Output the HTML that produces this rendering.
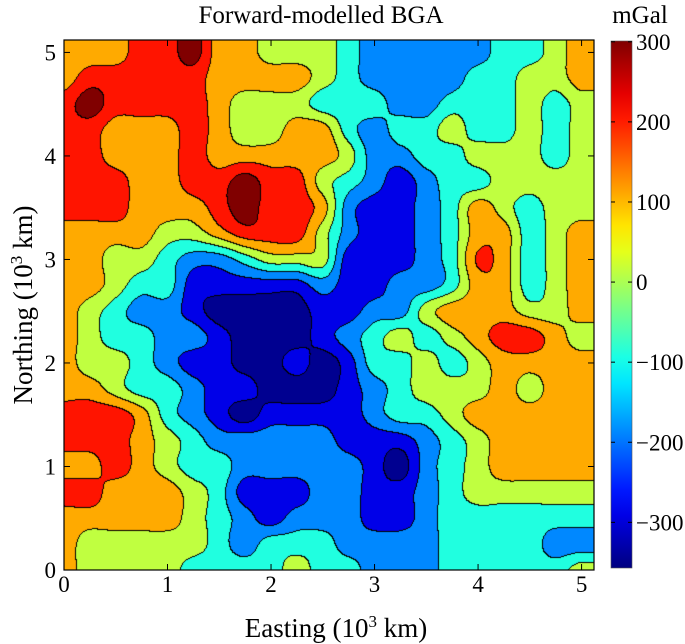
<!DOCTYPE html>
<html><head><meta charset="utf-8"><style>
body{margin:0;background:#fff;width:685px;height:644px;overflow:hidden;position:relative;font-family:"Liberation Serif",serif}
canvas{position:absolute;left:64px;top:40px}
svg{position:absolute;left:0;top:0}
</style></head><body>
<canvas id="map" width="530" height="530"></canvas>
<svg id="ax" width="685" height="644"></svg>
<script>
// grid values (mGal), rows from northing 5.0 down to 0.0 in 0.25 km steps; columns easting 0..5 step 0.25
const K=-300,B=-220,L=-140,C=-60,G=20,O=100,R=180,D=260;
const gridNorthing=[5,4.75,4.5,4.25,4,3.75,3.5,3.25,3,2.75,2.5,2.25,2,1.75,1.5,1.25,1,0.75,0.5,0.25,0];
const gridEasting=[0,0.25,0.5,0.75,1,1.25,1.5,1.75,2,2.25,2.5,2.75,3,3.25,3.5,3.75,4,4.25,4.5,4.75,5];
const bga=[
[O,O,O,R,R,D,O,O,G,G,G, C,L,L,L,L,L,C,C,G,O],
[O,R,R,R,R,R,O,O,O,O,G, C,L,L,L,L,C,C,G,G,O],
[R,D,R,R,R,R,O,G,G,G,C, C,C,L,L,C,C,C,G,C,G],
[R,R,O,O,O,R,O,G,G,O,O, C,L,C,C,G,C,C,G,C,G],
[R,R,O,O,O,R,O,O,O,O,O, G,L,L,C,C,G,G,G,C,G],
[R,R,R,O,O,R,R,D,R,R,G, C,L,B,L,C,C,G,G,G,G],
[R,R,R,O,O,O,R,D,R,R,O, L,B,B,L,C,O,G,C,G,G],
[O,O,O,O,G,G,O,R,R,R,G, L,B,B,L,C,O,O,C,G,O],
[O,O,G,G,C,L,L,C,G,G,G, B,B,B,L,C,150,O,C,G,O],
[O,O,G,C,C,B,B,B,B,B,L, B,B,L,L,C,O,O,C,G,O],
[O,G,C,L,L,B,K,K,K,K,B, B,L,L,G,O,O,O,G,G,O],
[O,G,C,C,L,L,B,K,K,K,B, L,C,G,C,G,O,R,R,O,G],
[O,G,G,C,L,B,B,K,K,B,K, B,C,C,G,C,G,O,O,O,O],
[O,O,G,C,C,L,B,B,K,K,K, B,L,C,G,G,G,O,G,O,O],
[R,R,R,O,C,L,B,K,B,B,B, B,L,C,C,G,O,O,O,O,O],
[R,R,R,O,G,C,L,L,L,L,L, B,B,B,L,C,G,O,O,O,O],
[O,O,R,O,G,C,C,L,L,L,L, L,B,K,L,C,G,O,O,O,O],
[R,R,O,O,O,G,C,B,B,B,L, L,B,B,L,C,G,G,G,G,G],
[O,O,O,O,O,G,C,L,B,L,L, L,B,B,L,C,C,C,C,C,C],
[O,G,G,G,G,G,C,L,C,C,C, L,L,L,L,C,C,C,C,L,L],
[O,G,G,G,G,C,C,C,C,G,C, C,L,L,L,C,C,C,C,C,G]
];
const levels=[-260,-180,-100,-20,60,140,220];
const bandColors=[[0,0,144],[0,0,232],[0,136,255],[32,255,224],[192,255,64],[255,170,0],[255,20,0],[128,0,0]];
const xTicks=[0,1,2,3,4,5];
const yTicks=[0,1,2,3,4,5];
const cbTicks=[300,200,100,0,-100,-200,-300];

const X0=64,X1=594,Y0=570,Y1=40,KMAX=5.12;
const sx=v=>X0+v*(X1-X0)/KMAX, sy=v=>Y0-v*(Y0-Y1)/KMAX;
const CB_TOP=41,CB_BOT=568,CMAX=301,CMIN=-357;
const cy=v=>CB_TOP+(CMAX-v)*(CB_BOT-CB_TOP)/(CMAX-CMIN);

function gv(r,c){const nr=bga.length,nc=bga[0].length;r=Math.max(0,Math.min(nr-1,r));c=Math.max(0,Math.min(nc-1,c));return bga[r][c];}
function cr(p0,p1,p2,p3,t){return 0.5*((2*p1)+(-p0+p2)*t+(2*p0-5*p1+4*p2-p3)*t*t+(-p0+3*p1-3*p2+p3)*t*t*t);}
function sample(e,n){
  const nr=gridNorthing.length,nc=gridEasting.length;
  let fc=Math.min(Math.max(e/0.25,0),nc-1), fr=Math.min(Math.max((5-n)/0.25,0),nr-1);
  let c0=Math.min(Math.floor(fc),nc-2), r0=Math.min(Math.floor(fr),nr-2);
  const tx=fc-c0, ty=fr-r0;
  const rows=[];
  for(let k=-1;k<=2;k++){rows.push(cr(gv(r0+k,c0-1),gv(r0+k,c0),gv(r0+k,c0+1),gv(r0+k,c0+2),tx));}
  return cr(rows[0],rows[1],rows[2],rows[3],ty);
}
function band(v){let k=0;while(k<levels.length&&v>=levels[k])k++;return k;}
(function(){
  const cv=document.getElementById('map'),ctx=cv.getContext('2d');
  const W=cv.width,H=cv.height,img=ctx.createImageData(W,H);
  const bands=new Int8Array(W*H);
  for(let j=0;j<H;j++)for(let i=0;i<W;i++){
    const e=(i+0.5)/W*KMAX, n=KMAX-(j+0.5)/H*KMAX;
    bands[j*W+i]=band(sample(e,n));
  }
  for(let j=0;j<H;j++)for(let i=0;i<W;i++){
    const b=bands[j*W+i];let col=bandColors[b];
    if((i<W-1&&bands[j*W+i+1]!==b)||(j<H-1&&bands[(j+1)*W+i]!==b))col=[0,0,0];
    const p=(j*W+i)*4;img.data[p]=col[0];img.data[p+1]=col[1];img.data[p+2]=col[2];img.data[p+3]=255;
  }
  ctx.putImageData(img,0,0);
})();
function jet(t){const cl=v=>Math.max(0,Math.min(1,v));
  return `rgb(${Math.round(255*cl(1.5-Math.abs(4*t-3)))},${Math.round(255*cl(1.5-Math.abs(4*t-2)))},${Math.round(255*cl(1.5-Math.abs(4*t-1)))})`;}
const NS='http://www.w3.org/2000/svg',svg=document.getElementById('ax');
function el(tag,attrs,parent){const e=document.createElementNS(NS,tag);for(const k in attrs)e.setAttribute(k,attrs[k]);(parent||svg).appendChild(e);return e;}
const defs=el('defs',{});const lg=el('linearGradient',{id:'jet',x1:0,y1:1,x2:0,y2:0},defs);
for(let s=0;s<=20;s++){el('stop',{offset:s/20,'stop-color':jet(s/20)},lg);}
const cbar=el('rect',{x:611,y:CB_TOP,width:21,height:CB_BOT-CB_TOP,fill:'url(#jet)',stroke:'#555','stroke-width':0.6});


cbTicks.forEach(v=>{
  const y=cy(v);
  el('line',{x1:611,x2:615,y1:y,y2:y,stroke:'#000','stroke-width':1});
  el('line',{x1:628,x2:632,y1:y,y2:y,stroke:'#000','stroke-width':1});
  const t=el('text',{x:636,y:y+8,'font-size':23,'font-family':'Liberation Serif, serif'});
  t.textContent=v<0?'\u2212'+(-v):String(v);
  
  
});
const fr=el('rect',{x:X0,y:Y1,width:X1-X0,height:Y0-Y1,fill:'none',stroke:'#000','stroke-width':1.2});


xTicks.forEach(v=>{
  const x=sx(v);
  el('line',{x1:x,x2:x,y1:Y0,y2:Y0-6,stroke:'#000'});
  el('line',{x1:x,x2:x,y1:Y1,y2:Y1+6,stroke:'#000'});
  const t=el('text',{x:x,y:Y0+22,'text-anchor':'middle','font-size':23,'font-family':'Liberation Serif, serif'});
  t.textContent=v;
  
  
});
yTicks.forEach(v=>{
  const y=sy(v);
  el('line',{x1:X0,x2:X0+6,y1:y,y2:y,stroke:'#000'});
  el('line',{x1:X1,x2:X1-6,y1:y,y2:y,stroke:'#000'});
  const t=el('text',{x:X0-8,y:y+8,'text-anchor':'end','font-size':23,'font-family':'Liberation Serif, serif'});
  t.textContent=v;
  
  
});
</script>
<svg width="685" height="644" style="pointer-events:none">
<text x="321" y="23" text-anchor="middle" font-size="25" font-family="Liberation Serif, serif">Forward-modelled BGA</text>
<text x="640" y="23" text-anchor="middle" font-size="25" font-family="Liberation Serif, serif">mGal</text>
<text x="336" y="637" text-anchor="middle" font-size="27" font-family="Liberation Serif, serif">Easting (10<tspan font-size="17" dy="-10">3</tspan><tspan dy="10"> km)</tspan></text>
<text transform="translate(32,305) rotate(-90)" text-anchor="middle" font-size="27" font-family="Liberation Serif, serif">Northing (10<tspan font-size="17" dy="-10">3</tspan><tspan dy="10"> km)</tspan></text>
</svg>
</body></html>
